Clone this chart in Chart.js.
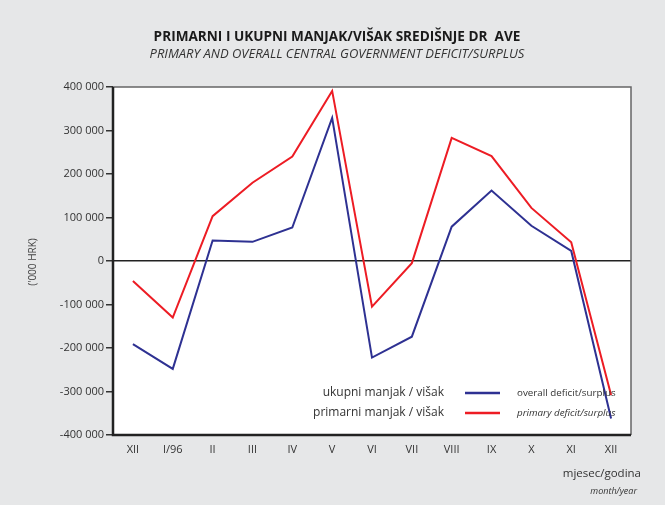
<!DOCTYPE html>
<html>
<head>
<meta charset="utf-8">
<script src="https://cdn.jsdelivr.net/npm/chart.js@4"></script>
<style>
  html, body { margin: 0; padding: 0; background: #e6e7e8; }
  #wrap { width: 665px; height: 505px; }
</style>
</head>
<body>
<div id="wrap"><canvas id="deficit" width="665" height="505"></canvas></div>
<script>
// ====== Podaci ======
const months = ['XII', 'I/96', 'II', 'III', 'IV', 'V', 'VI', 'VII', 'VIII', 'IX', 'X', 'XI', 'XII'];
const overall = [-191000, -248000, 47000, 44000, 77000, 329000, -222000, -174000, 79000, 162000, 81000, 23000, -362000];
const primary = [-46000, -130000, 103000, 180000, 240000, 391000, -105000, -5000, 283000, 241000, 122000, 43000, -308000];
const yTicks = [-400000, -300000, -200000, -100000, 0, 100000, 200000, 300000, 400000];

const BLUE = '#2e3192';
const RED = '#ed1c24';
const FONT = '"Open Sans", "DejaVu Sans", sans-serif';

const fmt = v => {
  const s = Math.abs(v).toString().replace(/\B(?=(\d{3})+(?!\d))/g, ' ');
  return (v < 0 ? '-' : '') + s;
};

// pozadina + okvir + tekstovi
const decor = {
  id: 'decor',
  beforeDraw(chart) {
    const { ctx, chartArea: a, width, height } = chart;
    ctx.save();
    ctx.fillStyle = '#e6e7e8';
    ctx.fillRect(0, 0, width, height);
    ctx.fillStyle = '#ffffff';
    ctx.fillRect(a.left, a.top, a.right - a.left, a.bottom - a.top);
    ctx.restore();
  },
  afterDraw(chart) {
    const { ctx, chartArea: a } = chart;
    ctx.save();
    // okvir
    ctx.strokeStyle = '#666';
    ctx.lineWidth = 1.5;
    ctx.beginPath();
    ctx.moveTo(a.left, a.top); ctx.lineTo(a.right, a.top); ctx.lineTo(a.right, a.bottom);
    ctx.stroke();
    ctx.strokeStyle = '#222';
    ctx.lineWidth = 2.5;
    ctx.beginPath();
    ctx.moveTo(a.left, a.top); ctx.lineTo(a.left, a.bottom); ctx.lineTo(a.right, a.bottom);
    ctx.stroke();

    // naslovi
    ctx.textAlign = 'center';
    ctx.textBaseline = 'middle';
    ctx.fillStyle = '#1a1a1a';
    ctx.font = 'bold 13.6px ' + FONT;
    ctx.fillText('PRIMARNI I UKUPNI MANJAK/VIŠAK SREDIŠNJE DR  AVE', 337, 37);
    ctx.fillStyle = '#333';
    ctx.font = 'italic 13px ' + FONT;
    ctx.fillText('PRIMARY AND OVERALL CENTRAL GOVERNMENT DEFICIT/SURPLUS', 337, 54);

    // y os naslov
    ctx.save();
    ctx.translate(33, 262);
    ctx.rotate(-Math.PI / 2);
    ctx.font = '10px ' + FONT;
    ctx.fillStyle = '#444';
    ctx.fillText("('000 HRK)", 0, 0);
    ctx.restore();

    // x os naslov
    ctx.textAlign = 'right';
    ctx.fillStyle = '#333';
    ctx.font = '11.5px ' + FONT;
    ctx.fillText('mjesec/godina', 641, 474);
    ctx.font = 'italic 9px ' + FONT;
    ctx.fillText('month/year', 637, 491);

    // legenda
    const rows = [
      { hr: 'ukupni manjak / višak', en: 'overall deficit/surplus', color: BLUE, italic: false, y: 393 },
      { hr: 'primarni manjak / višak', en: 'primary deficit/surplus', color: RED, italic: true, y: 413 }
    ];
    rows.forEach(r => {
      ctx.textAlign = 'right';
      ctx.fillStyle = '#333';
      ctx.font = '12px ' + FONT;
      ctx.fillText(r.hr, 444, r.y);
      ctx.strokeStyle = r.color;
      ctx.lineWidth = 2.5;
      ctx.beginPath();
      ctx.moveTo(465, r.y); ctx.lineTo(500, r.y);
      ctx.stroke();
      ctx.textAlign = 'left';
      ctx.font = (r.italic ? 'italic ' : '') + '9.8px ' + FONT;
      ctx.fillText(r.en, 517, r.y);
    });
    ctx.restore();
  }
};

new Chart(document.getElementById('deficit'), {
  type: 'line',
  data: {
    labels: months,
    datasets: [
      { label: 'ukupni manjak / višak', data: overall, borderColor: BLUE, borderWidth: 2, pointRadius: 0, tension: 0 },
      { label: 'primarni manjak / višak', data: primary, borderColor: RED, borderWidth: 2, pointRadius: 0, tension: 0 }
    ]
  },
  options: {
    responsive: false,
    animation: false,
    layout: { padding: { left: 0, top: 87, right: 34, bottom: 0 } },
    plugins: { legend: { display: false }, tooltip: { enabled: false } },
    scales: {
      x: {
        offset: true,
        grid: { display: false, drawTicks: false },
        border: { display: false },
        ticks: { color: '#333', font: { family: FONT, size: 11 }, padding: 8, maxRotation: 0, autoSkip: false },
        afterFit: s => { s.height = 70; }
      },
      y: {
        min: -400000,
        max: 400000,
        afterBuildTicks: s => { s.ticks = yTicks.map(v => ({ value: v })); },
        grid: {
          color: c => (c.tick && c.tick.value === 0 ? '#222' : 'transparent'),
          lineWidth: 1.5,
          tickColor: '#333',
          tickLength: 7
        },
        border: { display: false },
        ticks: { color: '#333', font: { family: FONT, size: 11 }, padding: 2, callback: v => fmt(v) },
        afterFit: s => { s.width = 113; }
      }
    }
  },
  plugins: [decor]
});
</script>
</body>
</html>
